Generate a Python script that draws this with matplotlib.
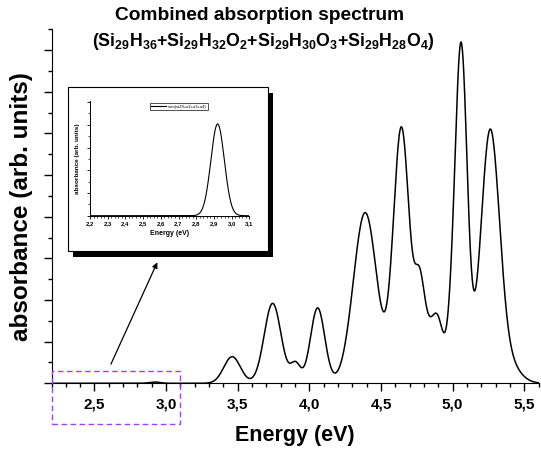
import numpy as np
import matplotlib
matplotlib.use("Agg")
import matplotlib.pyplot as plt
from matplotlib.patches import Rectangle
from matplotlib.ticker import MultipleLocator, FuncFormatter
import matplotlib.transforms as mtransforms

plt.rcParams["font.family"] = ["Liberation Sans", "DejaVu Sans"]
plt.rcParams["mathtext.fontset"] = "custom"
plt.rcParams["mathtext.rm"] = "Liberation Sans"
plt.rcParams["mathtext.bf"] = "Liberation Sans:bold"

# absorption bands of the combined spectrum (eV, height, gaussian width)
band_centres = [3.461, 3.744, 3.904, 4.058, 4.390, 4.643, 4.767, 4.820, 4.900, 4.985, 5.059, 5.262, 5.388]
band_heights = [0.64, 1.92, 0.46, 1.81, 4.10, 6.12, 1.65, 1.10, 1.29, 0.60, 8.12, 5.98, 0.44]
band_widths = [0.058, 0.059, 0.035, 0.050, 0.082, 0.056, 0.034, 0.050, 0.040, 0.030, 0.043, 0.065, 0.079]

# weak low-energy band, shown enlarged in the inset
weak_centre = 2.921
weak_width = 0.038
weak_height_main = 0.03
weak_height_inset = 4.04

main_range = (2.2, 5.6)
inset_range = (2.2, 3.1)
legend_label = "sum(si29+o2+o3+o4)"


def spectrum(e, centres, heights, widths):
    e = np.asarray(e)[:, None]
    c, h, w = np.array(centres), np.array(heights), np.array(widths)
    return (h * np.exp(-0.5 * ((e - c) / w) ** 2)).sum(axis=1)


energy = np.linspace(*main_range, 1500)
absorb = spectrum(energy, band_centres + [weak_centre], band_heights + [weak_height_main],
                  band_widths + [weak_width])

inset_energy = np.linspace(*inset_range, 600)
inset_absorb = spectrum(inset_energy, [weak_centre], [weak_height_inset], [weak_width])

W, H = 541, 451
fig = plt.figure(figsize=(W / 100, H / 100), dpi=100)


def px(x0, y0, x1, y1):
    # pixel box (top-left origin) -> figure fraction rect
    return [x0 / W, 1 - y1 / H, (x1 - x0) / W, (y1 - y0) / H]


comma = FuncFormatter(lambda v, pos: f"{v:.1f}".replace(".", ","))

# ---- main spectrum ----
ax = fig.add_axes(px(51.5, 29.3, 538.5, 383.3))
ax.set_zorder(0)
ax.plot(energy, absorb, color="black", lw=1.1)
ax.set_xlim(*main_range)
ax.set_ylim(0, 8.5)
ax.spines["top"].set_visible(False)
ax.spines["right"].set_visible(False)
ax.xaxis.set_major_locator(MultipleLocator(0.5))
ax.xaxis.set_minor_locator(MultipleLocator(0.1))
ax.yaxis.set_major_locator(MultipleLocator(1))
ax.yaxis.set_minor_locator(MultipleLocator(0.5))
ax.xaxis.set_major_formatter(comma)
ax.set_yticklabels([])
ax.tick_params(which="major", length=6, width=1.0, direction="out")
ax.tick_params(which="minor", length=3, width=1.0, direction="out")
ax.tick_params(axis="x", labelsize=11, pad=4)
for t in ax.get_xticklabels():
    t.set_fontweight("bold")
ax.set_xlabel("Energy (eV)", fontsize=15.5, fontweight="bold", labelpad=10)
ax.set_ylabel("absorbance (arb. units)", fontsize=17.5, fontweight="bold", labelpad=4)

# dashed box round the zoomed region
blend = mtransforms.blended_transform_factory(ax.transData, ax.transAxes)
ax.add_patch(Rectangle((inset_range[0], -0.115), inset_range[1] - inset_range[0], 0.15,
                       transform=blend, fill=False, edgecolor="#a040ff", lw=1.0,
                       linestyle=(0, (4, 2.5)), clip_on=False, zorder=5))

# titles
fig.text(0.48, 1 - 15.5 / H, "Combined absorption spectrum", ha="center", va="center",
         fontsize=13.8, fontweight="bold")
formula = (r"(Si$_\mathbf{29}$H$_\mathbf{36}$+Si$_\mathbf{29}$H$_\mathbf{32}$O$_\mathbf{2}$"
           r"+Si$_\mathbf{29}$H$_\mathbf{30}$O$_\mathbf{3}$+Si$_\mathbf{29}$H$_\mathbf{28}$O$_\mathbf{4}$)")
fig.text(0.487, 1 - 42 / H, formula, ha="center", va="center", fontsize=12.8, fontweight="bold")

# ---- inset frame with drop shadow ----
shadow = Rectangle((73 / W, 1 - 256.5 / H), 200 / W, 163.5 / H, transform=fig.transFigure,
                   facecolor="black", edgecolor="none", zorder=1)
frame = Rectangle((68 / W, 1 - 251 / H), 200 / W, 164 / H, transform=fig.transFigure,
                  facecolor="white", edgecolor="black", lw=0.8, zorder=1.1)
fig.patches.extend([shadow, frame])

axi = fig.add_axes(px(90, 101, 249.3, 215.7))
axi.set_zorder(2)
axi.patch.set_alpha(0)
axi.plot(inset_energy, inset_absorb, color="black", lw=0.8, label=legend_label)
axi.set_xlim(*inset_range)
axi.set_ylim(0, 5.05)
axi.spines["top"].set_visible(False)
axi.spines["right"].set_visible(False)
for s in ("left", "bottom"):
    axi.spines[s].set_linewidth(0.7)
axi.xaxis.set_major_locator(MultipleLocator(0.1))
axi.xaxis.set_minor_locator(MultipleLocator(0.02))
axi.yaxis.set_major_locator(MultipleLocator(1))
axi.yaxis.set_minor_locator(MultipleLocator(0.5))
axi.xaxis.set_major_formatter(comma)
axi.set_yticklabels([])
axi.tick_params(which="major", length=2.5, width=0.6, direction="out")
axi.tick_params(which="minor", length=1.3, width=0.5, direction="out")
axi.tick_params(axis="x", labelsize=4.3, pad=1.5)
for t in axi.get_xticklabels():
    t.set_fontweight("bold")
axi.set_xlabel("Energy (eV)", fontsize=5, fontweight="bold", labelpad=3)
axi.set_ylabel("absorbance (arb. units)", fontsize=4.6, fontweight="bold", labelpad=1.5)
leg = axi.legend(loc="center", bbox_to_anchor=(0.56, 0.95), fontsize=3, frameon=True,
                 fancybox=False, handlelength=3.5, borderpad=0.3, handletextpad=0.5)
leg.get_frame().set_edgecolor("black")
leg.get_frame().set_linewidth(0.6)

# arrow from the dashed box up to the inset
ax.annotate("", xy=(157.3, H - 262.3), xycoords="figure pixels",
            xytext=(2.615, 0.46), textcoords="data",
            arrowprops=dict(arrowstyle="-|>", color="black", lw=0.9, mutation_scale=8,
                            shrinkA=0, shrinkB=0),
            annotation_clip=False, zorder=6)

plt.savefig("out.png", dpi=100)
